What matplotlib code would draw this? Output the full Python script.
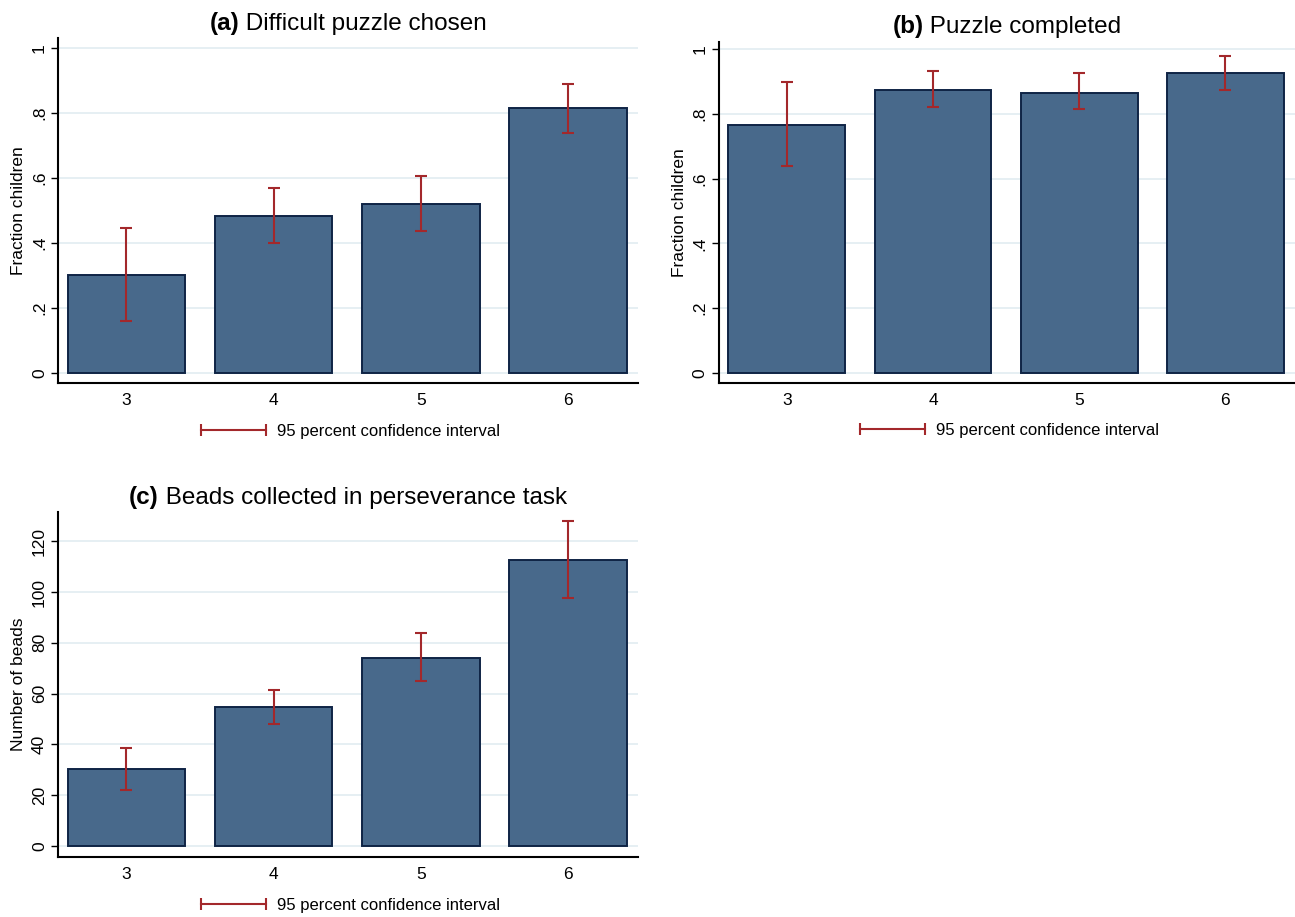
import matplotlib.pyplot as plt
from matplotlib.lines import Line2D

plt.rcParams['font.family'] = ['Liberation Sans Narrow', 'Liberation Sans', 'DejaVu Sans']

# age groups
ages = [3, 4, 5, 6]

# (a) difficult puzzle chosen
difficult_mean = [0.300, 0.483, 0.520, 0.815]
difficult_lo = [0.160, 0.400, 0.437, 0.740]
difficult_hi = [0.445, 0.569, 0.605, 0.888]

# (b) puzzle completed
completed_mean = [0.765, 0.873, 0.864, 0.925]
completed_lo = [0.638, 0.820, 0.815, 0.873]
completed_hi = [0.897, 0.931, 0.925, 0.977]

# (c) beads collected
beads_mean = [30.4, 54.7, 74.0, 112.5]
beads_lo = [22.0, 48.0, 65.0, 97.5]
beads_hi = [38.7, 61.3, 83.7, 128.0]

frac_ticks = [0, 0.2, 0.4, 0.6, 0.8, 1]
frac_labels = ['0', '.2', '.4', '.6', '.8', '1']
bead_ticks = [0, 20, 40, 60, 80, 100, 120]
bead_labels = ['0', '20', '40', '60', '80', '100', '120']

BAR = '#48698b'
EDGE = '#0f2445'
CI = '#a3282b'
GRID = '#e2ecf1'

fig = plt.figure(figsize=(12.95, 9.17), dpi=100)


def panel(rect, tag, title, mean, lo, hi, ylim, yticks, ylabels, ylabel):
    ax = fig.add_axes(rect)
    ax.bar(ages, mean, width=0.8, color=BAR, edgecolor=EDGE, linewidth=1.4, zorder=2)
    err = [[m - l for m, l in zip(mean, lo)], [h - m for m, h in zip(mean, hi)]]
    ax.errorbar(ages, mean, yerr=err, fmt='none', ecolor=CI, elinewidth=1.5,
                capsize=4, capthick=1.5, zorder=3)
    ax.set_xlim(2.535, 6.478)
    ax.set_ylim(*ylim)
    ax.set_yticks(yticks)
    ax.set_yticklabels(ylabels, rotation=90, va='center', fontsize=12.5)
    ax.set_xticks(ages)
    ax.set_xticklabels([str(a) for a in ages], fontsize=12.5)
    ax.tick_params(axis='x', length=0, pad=7)
    ax.tick_params(axis='y', length=5, width=1, pad=3)
    ax.set_ylabel(ylabel, fontsize=12.5, labelpad=4)
    for s in ['top', 'right']:
        ax.spines[s].set_visible(False)
    for s in ['left', 'bottom']:
        ax.spines[s].set_linewidth(1.5)
    ax.yaxis.grid(True, color=GRID, linewidth=1.2, zorder=0)
    ax.set_axisbelow(True)

    t1 = ax.text(0.5, 1.01, tag, transform=ax.transAxes, fontsize=17.5,
                 fontweight='bold', ha='left', va='bottom')
    t2 = ax.annotate(' ' + title, xy=(1, 0), xycoords=t1, fontsize=17.5,
                     ha='left', va='bottom')

    handle = Line2D([], [], color=CI, lw=1.5, marker='|', markersize=8,
                    markeredgewidth=1.5)
    ax.legend([handle], ['95 percent confidence interval'], loc='center',
              bbox_to_anchor=(0.5, -0.14), frameon=False, numpoints=2,
              handlelength=4.5, handletextpad=0.4, fontsize=12)
    return ax, t1, t2


titles = [
    panel([0.0448, 0.5823, 0.448, 0.3763], '(a)', 'Difficult puzzle chosen',
          difficult_mean, difficult_lo, difficult_hi, (-0.031, 1.031),
          frac_ticks, frac_labels, 'Fraction children'),
    panel([0.5552, 0.5823, 0.4448, 0.372], '(b)', 'Puzzle completed',
          completed_mean, completed_lo, completed_hi, (-0.031, 1.022),
          frac_ticks, frac_labels, 'Fraction children'),
    panel([0.0448, 0.0654, 0.448, 0.3763], '(c)', 'Beads collected in perseverance task',
          beads_mean, beads_lo, beads_hi, (-4.3, 131.5),
          bead_ticks, bead_labels, 'Number of beads'),
]

# centre the two-part titles over each panel
fig.canvas.draw()
r = fig.canvas.get_renderer()
for ax, t1, t2 in titles:
    w = t1.get_window_extent(r).width + t2.get_window_extent(r).width
    axw = ax.get_window_extent(r).width
    t1.set_x(0.5 - w / axw / 2)

fig.savefig('out.png', dpi=100)
